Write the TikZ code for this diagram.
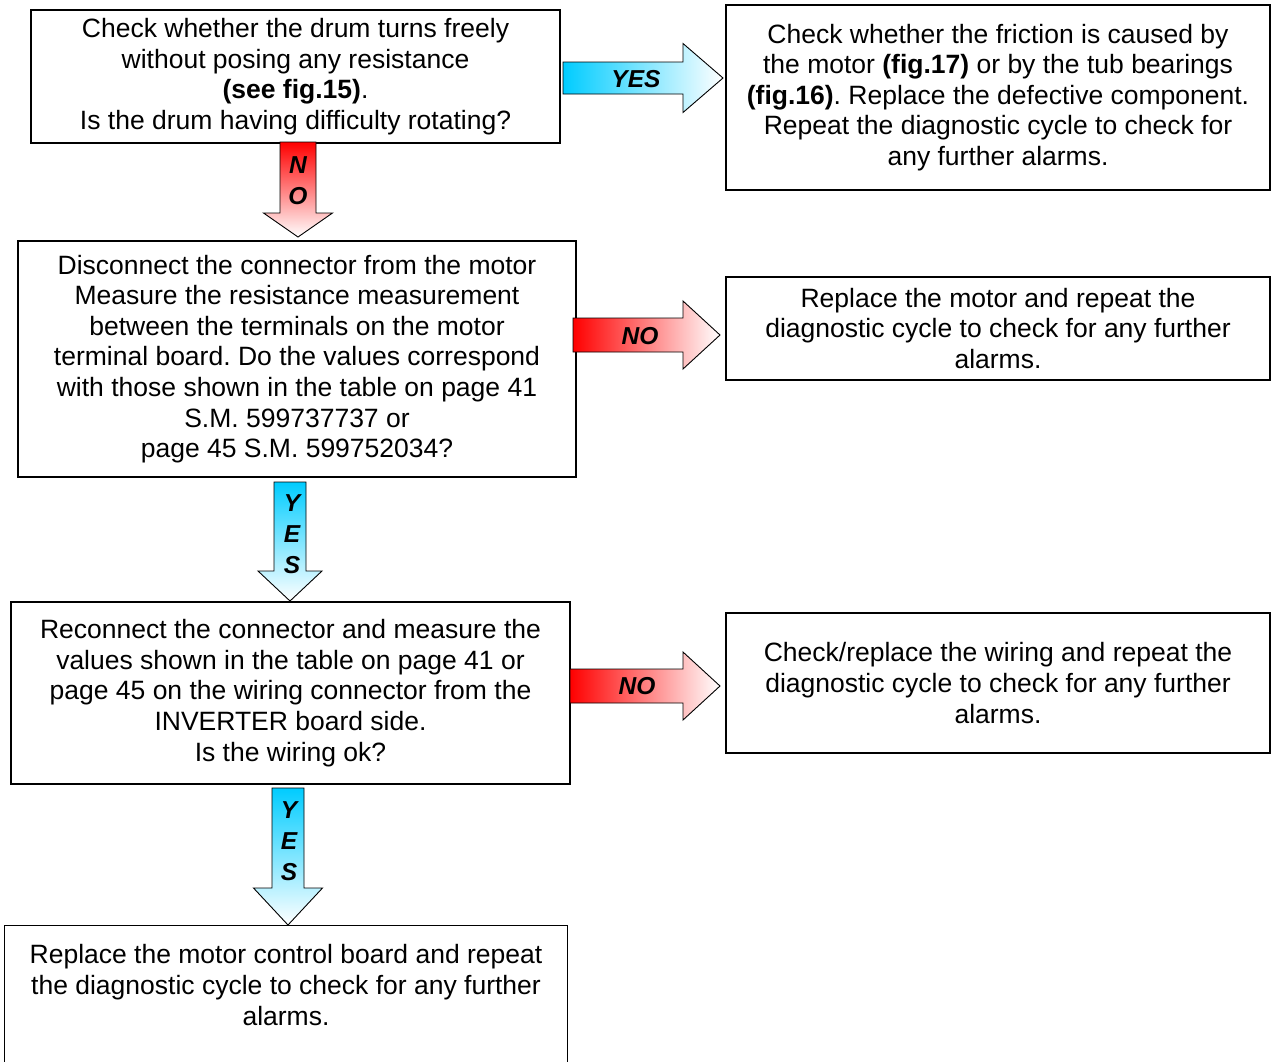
\documentclass[tikz,border=0pt]{standalone}
\usepackage{fontspec}
\setmainfont{Liberation Sans}
\frenchspacing
\definecolor{yescyan}{RGB}{0,204,255}
\definecolor{nored}{RGB}{255,0,0}
\tikzset{
  box/.style={draw=black, line width=1.3pt, align=center, inner sep=2pt,
    font=\fontsize{26.5}{30.6}\selectfont},
  blockarrow/.style={draw=black, line width=0.9pt, line join=miter},
  arrowlabel/.style={align=center, inner sep=0pt,
    font=\fontsize{24.5}{31}\selectfont\bfseries\itshape}
}
\newcommand\harrowshape[7]{% x0, y, halfshaft, xhead, halfhead, xtip, color
  \path[blockarrow, left color=#7, right color=white]
    (#1,#2-#3) -- (#4,#2-#3) -- (#4,#2-#5) -- (#6,#2) -- (#4,#2+#5)
    -- (#4,#2+#3) -- (#1,#2+#3) -- cycle;}
\newcommand\varrowshape[7]{% x, y0, halfshaft, yhead, halfhead, ytip, color
  \path[blockarrow, top color=#7, bottom color=white]
    (#1-#3,#2) -- (#1+#3,#2) -- (#1+#3,#4) -- (#1+#5,#4) -- (#1,#6)
    -- (#1-#5,#4) -- (#1-#3,#4) -- cycle;}
\begin{document}
\begin{tikzpicture}[x=1pt,y=-1pt]
\fill[white] (0,0) rectangle (1272,1061);
\useasboundingbox (0,0) rectangle (1272,1061);

% boxes
\node[box, minimum width=529, minimum height=133] (b1) at (295.5,76.5)
  {Check whether the drum turns freely\\
   without posing any resistance\\
   \textbf{(see fig.15)}.\\
   Is the drum having difficulty rotating?};
\node[box, minimum width=544, minimum height=185] (b2) at (998,97.5)
  {Check whether the friction is caused by\\
   the motor \textbf{(fig.17)} or by the tub bearings\\
   \textbf{(fig.16)}. Replace the defective component.\\
   Repeat the diagnostic cycle to check for\\
   any further alarms.};
\node[box, minimum width=558, minimum height=236] (b3) at (297,359)
  {Disconnect the connector from the motor\\
   Measure the resistance measurement\\
   between the terminals on the motor\\
   terminal board. Do the values correspond\\
   with those shown in the table on page 41\\
   S.M. 599737737 or\\
   page 45 S.M. 599752034?};
\node[box, minimum width=544, minimum height=103] (b4) at (998,328.5)
  {Replace the motor and repeat the\\
   diagnostic cycle to check for any further\\
   alarms.};
\node[box, minimum width=559, minimum height=182] (b5) at (290.5,693)
  {Reconnect the connector and measure the\\
   values shown in the table on page 41 or\\
   page 45 on the wiring connector from the\\
   INVERTER board side.\\
   Is the wiring ok?};
\node[box, minimum width=544, minimum height=140] (b6) at (998,683)
  {Check/replace the wiring and repeat the\\
   diagnostic cycle to check for any further\\
   alarms.};
\node[box, draw=none, minimum width=562, minimum height=118] (b7) at (286,985)
  {Replace the motor control board and repeat\\
   the diagnostic cycle to check for any further\\
   alarms.};
\draw[line width=1.3pt] (b7.north west) rectangle ([yshift=-40pt]b7.south east);

% block arrows
\harrowshape{563}{78}{16}{683}{34.5}{723}{yescyan}
\node[arrowlabel] (l1) at (636,79) {YES};

\varrowshape{298}{142}{18}{213}{34.5}{237}{nored}
\node[arrowlabel] (l2) at (298,181) {N\\O};

\harrowshape{573}{335}{17}{683}{34}{720}{nored}
\node[arrowlabel] (l3) at (640,336) {NO};

\varrowshape{290}{482}{16}{571}{32}{601}{yescyan}
\node[arrowlabel] (l4) at (292,534) {Y\\E\\S};

\harrowshape{570}{686}{17}{683}{34}{720}{nored}
\node[arrowlabel] (l5) at (637,686) {NO};

\varrowshape{288}{788}{16}{888}{34.5}{925}{yescyan}
\node[arrowlabel] (l6) at (289,841) {Y\\E\\S};
\end{tikzpicture}
\end{document}
